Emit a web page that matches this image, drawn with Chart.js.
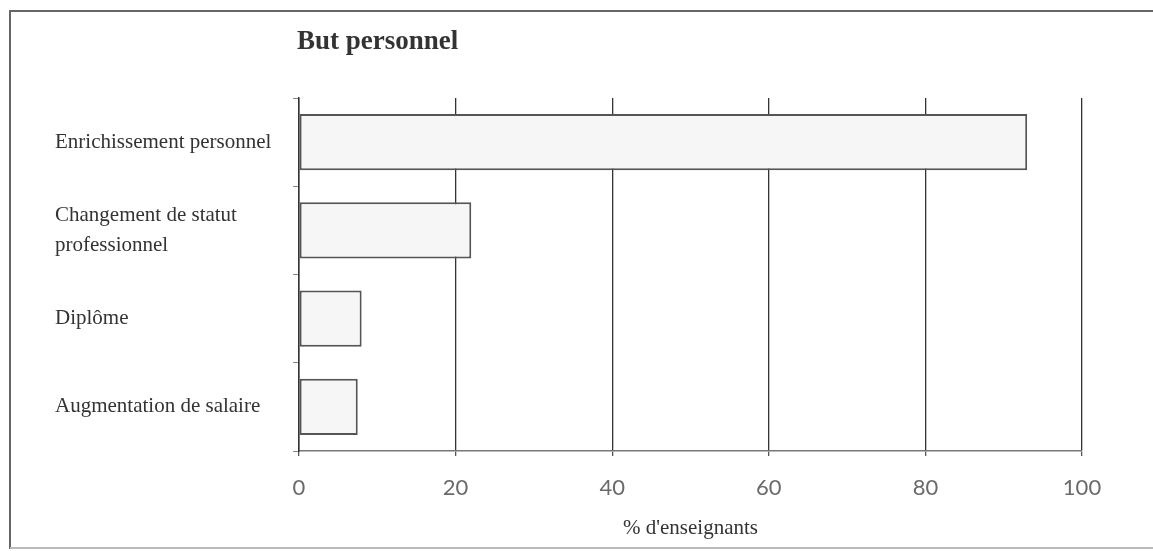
<!DOCTYPE html>
<html>
<head>
<meta charset="utf-8">
<script src="https://cdn.jsdelivr.net/npm/chart.js@4/dist/chart.umd.min.js"></script>
<style>
  html, body { margin: 0; padding: 0; background: #fff; }
  #wrap { position: relative; width: 1153px; height: 551px; }
  #title { position: absolute; left: 297px; top: 26px; font: bold 27px 'Liberation Serif', serif; line-height: 28px; color: #333; white-space: nowrap; }
  canvas { position: absolute; left: 0; top: 0; }
</style>
</head>
<body>
<div id="wrap">
  <canvas id="c" width="1153" height="551"></canvas>
  <div id="title">But personnel</div>
</div>
<script>
const categories = [
  'Enrichissement personnel',
  ['Changement de statut', 'professionnel'],
  'Diplôme',
  'Augmentation de salaire'
];
const values = [93, 22, 8, 7.5];
const xTicks = [0, 20, 40, 60, 80, 100];
const xAxisTitle = "% d'enseignants";

const framePlugin = {
  id: 'frame',
  beforeDraw(chart) {
    const ctx = chart.ctx;
    ctx.save();
    ctx.fillStyle = '#ffffff';
    ctx.fillRect(0, 0, chart.width, chart.height);
    ctx.lineWidth = 2;
    ctx.strokeStyle = '#666';
    ctx.beginPath();
    ctx.moveTo(10, 549);
    ctx.lineTo(10, 11);
    ctx.lineTo(1153, 11);
    ctx.stroke();
    ctx.strokeStyle = '#bbb';
    ctx.beginPath();
    ctx.moveTo(10, 548);
    ctx.lineTo(1153, 548);
    ctx.stroke();
    ctx.restore();
  }
};

new Chart(document.getElementById('c'), {
  type: 'bar',
  data: {
    labels: categories,
    datasets: [{
      data: values,
      backgroundColor: '#f6f6f6',
      borderColor: '#555',
      borderWidth: 2,
      borderSkipped: false,
      barPercentage: 0.64,
      categoryPercentage: 1
    }]
  },
  options: {
    indexAxis: 'y',
    responsive: false,
    devicePixelRatio: 1,
    animation: false,
    layout: { padding: { left: 55, top: 98, right: 71, bottom: 0 } },
    plugins: { legend: { display: false }, tooltip: { enabled: false } },
    scales: {
      x: {
        min: 0, max: 100,
        afterBuildTicks(scale) { scale.ticks = xTicks.map(v => ({ value: v })); },
        afterFit(scale) { scale.height = 100; },
        grid: { color: '#333', lineWidth: 1.3, drawTicks: true, tickLength: 5, tickColor: '#555' },
        border: { display: true, color: '#777', width: 1.5 },
        ticks: { color: '#6a6a6a', padding: 19, font: { family: 'Lato', size: 22 } },
        title: {
          display: true, text: xAxisTitle, color: '#333',
          font: { family: 'Liberation Serif', size: 21 },
          padding: { top: 0, bottom: 10 }
        }
      },
      y: {
        afterFit(scale) { scale.width = 244; },
        grid: { display: true, drawOnChartArea: false, drawTicks: true, tickLength: 6, color: '#888', offset: true },
        border: { display: true, color: '#333', width: 1.5 },
        ticks: {
          crossAlign: 'far', color: '#333', padding: 8,
          font: { family: 'Liberation Serif', size: 21, lineHeight: 1.4 }
        }
      }
    }
  },
  plugins: [framePlugin]
});
</script>
</body>
</html>
